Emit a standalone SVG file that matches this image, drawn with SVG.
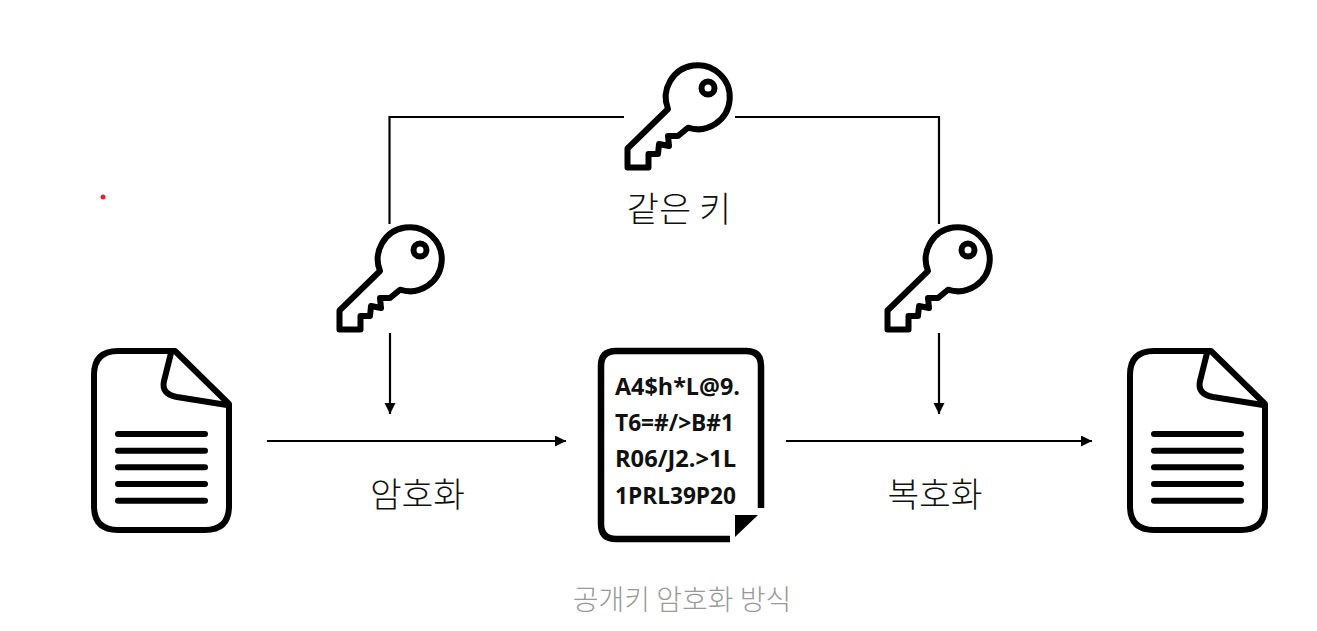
<svg xmlns="http://www.w3.org/2000/svg" xmlns:xlink="http://www.w3.org/1999/xlink" width="1317" height="631" viewBox="0 0 1317 631">
<style>
.ic{fill:none;stroke:#000;stroke-width:6;stroke-linejoin:round;stroke-linecap:round}
.ln{fill:none;stroke:#000;stroke-width:2.200}
.ko{font-family:"Noto Sans CJK KR","Noto Sans",sans-serif;fill:#111;font-weight:300}
.ci{font-family:"Open Sans","Liberation Sans",sans-serif;font-weight:700;font-size:23px;fill:#111}
</style>
<defs>
<marker id="arr" markerUnits="userSpaceOnUse" markerWidth="12" markerHeight="12" refX="11" refY="5.500" orient="auto"><path d="M0 0L11 5.500L0 11Z" fill="#000"/></marker>
<g id="key">
<path class="ic" d="M668 109A32 32 0 1 1 688 127.700L678 136H668L669 146L659 144L658 154H648.500V167.500H627.500V148.500Z"/>
<circle class="ic" cx="708" cy="88" r="6.500" stroke-width="5"/>
</g>
<g id="doc">
<path class="ic" d="M175 351H118Q94 351 94 375V506Q94 530 118 530H205Q229 530 229 506V404Z"/>
<path class="ic" d="M171 353L164 381Q161 394 177 397L227 405"/>
<path class="ic" d="M118 434H205M118 450.700H205M118 467.300H205M118 484H205M118 500.700H205"/>
</g>
</defs>
<g id="connectors">
<path class="ln" d="M389.500 224V117H624"/>
<path class="ln" d="M735 117H939V224"/>
<path class="ln" marker-end="url(#arr)" d="M390 333V414"/>
<path class="ln" marker-end="url(#arr)" d="M939 333V414"/>
<path class="ln" marker-end="url(#arr)" d="M267 441H566"/>
<path class="ln" marker-end="url(#arr)" d="M786 441H1092"/>
</g>
<g id="key-top"><use xlink:href="#key" href="#key"/></g>
<g id="key-left"><use xlink:href="#key" href="#key" x="-288" y="162"/></g>
<g id="key-right"><use xlink:href="#key" href="#key" x="260" y="162"/></g>
<g id="doc-plain"><use xlink:href="#doc" href="#doc"/></g>
<g id="doc-decrypted"><use xlink:href="#doc" href="#doc" x="1036"/></g>
<g id="doc-cipher">
<path d="M730 539H616Q601 539 601 524V366Q601 351 616 351H746Q761 351 761 366V508" fill="none" stroke="#000" stroke-width="6.500"/>
<path d="M735 515H758L735 537Z" fill="#000"/>
<text class="ci" x="615" y="395" textLength="125" lengthAdjust="spacingAndGlyphs">A4$h*L@9.</text>
<text class="ci" x="615" y="431" textLength="119" lengthAdjust="spacingAndGlyphs">T6=#/&gt;B#1</text>
<text class="ci" x="615" y="467" textLength="121" lengthAdjust="spacingAndGlyphs">R06/J2.&gt;1L</text>
<text class="ci" x="615" y="504" textLength="121" lengthAdjust="spacingAndGlyphs">1PRL39P20</text>
</g>
<text class="ko" x="679" y="222" font-size="35" text-anchor="middle">같은 키</text>
<text class="ko" x="417.500" y="507" font-size="34.500" text-anchor="middle">암호화</text>
<text class="ko" x="935" y="507" font-size="34.500" text-anchor="middle">복호화</text>
<text class="ko" x="682" y="610" font-size="28" text-anchor="middle" style="fill:#999">공개키 암호화 방식</text>
<circle cx="103" cy="197" r="2.500" fill="#e8202a"/>
</svg>
